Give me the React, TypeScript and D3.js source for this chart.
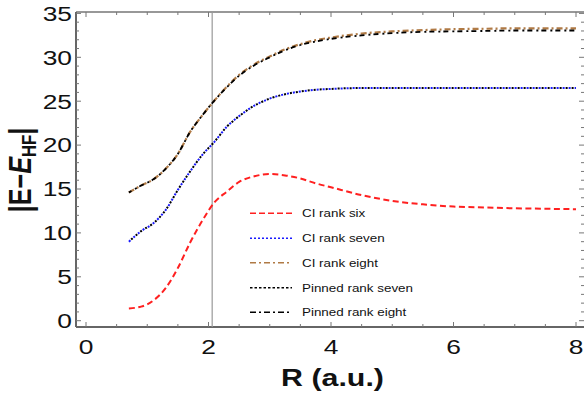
import React from "react";
import * as d3 from "d3";

// Internuclear distance grid (a.u.)
const rGrid = [0.7, 0.9, 1.1, 1.3, 1.5, 1.7, 1.9, 2.1, 2.3, 2.5, 2.75, 3.0, 3.25, 3.5, 3.75, 4.0, 4.5, 5.0, 5.5, 6.0, 6.5, 7.0, 7.5, 8.0];

// |E - E_HF| for each method
const ciRankSix = [1.4, 1.6, 2.3, 3.7, 6.0, 8.9, 11.4, 13.5, 14.7, 15.8, 16.45, 16.7, 16.55, 16.2, 15.65, 15.2, 14.3, 13.65, 13.25, 13.0, 12.9, 12.8, 12.75, 12.7];
const ciRankSeven = [9.0, 10.2, 11.1, 12.6, 14.9, 17.0, 18.9, 20.4, 22.1, 23.3, 24.5, 25.3, 25.8, 26.1, 26.3, 26.4, 26.5, 26.5, 26.5, 26.5, 26.5, 26.5, 26.5, 26.5];
const ciRankEight = [14.6, 15.4, 16.1, 17.3, 19.0, 21.5, 23.4, 25.1, 26.65, 28.0, 29.2, 30.1, 30.9, 31.5, 31.95, 32.25, 32.7, 32.95, 33.1, 33.2, 33.25, 33.3, 33.3, 33.3];
const pinnedRankSeven = [9.0, 10.2, 11.1, 12.6, 14.9, 17.0, 18.9, 20.4, 22.1, 23.3, 24.5, 25.3, 25.8, 26.1, 26.3, 26.4, 26.5, 26.5, 26.5, 26.5, 26.5, 26.5, 26.5, 26.5];
const pinnedRankEight = [14.6, 15.4, 16.1, 17.3, 19.0, 21.5, 23.4, 25.1, 26.6, 27.9, 29.1, 30.0, 30.8, 31.4, 31.8, 32.1, 32.5, 32.75, 32.9, 32.95, 33.0, 33.05, 33.05, 33.05];

const xTicks = [0, 2, 4, 6, 8];
const yTicks = [0, 5, 10, 15, 20, 25, 30, 35];
const markerR = 2.06;

const legendLabels = ["CI rank six", "CI rank seven", "CI rank eight", "Pinned rank seven", "Pinned rank eight"];

const FONT = "'Liberation Sans', Arial, sans-serif";
const SX = 1.32; // horizontal text stretch

export default function App() {
  const left = 76, right = 583, top = 12, bottom = 327;
  const x = d3.scaleLinear().domain([0, 8]).range([86, 576]);
  const y = d3.scaleLinear().domain([0, 35]).range([320.7, 13.4]);

  const line = (vals: number[]) =>
    d3
      .line<number>()
      .x((_, i) => x(rGrid[i]))
      .y((v) => y(v))
      .curve(d3.curveMonotoneX)(vals) || "";

  const series = [
    { vals: ciRankSix, color: "#ff2020", dash: "6,3.5", offset: 0, w: 2 },
    { vals: ciRankSeven, color: "#1a1aff", dash: "2,4", offset: 0, w: 2 },
    { vals: ciRankEight, color: "#b07a45", dash: "6,3,2,3", offset: 0, w: 2.2 },
    { vals: pinnedRankSeven, color: "#000000", dash: "2,4", offset: 3, w: 2 },
    { vals: pinnedRankEight, color: "#000000", dash: "5,4,2,3", offset: 2, w: 1.8 },
  ];
  const legendStyles = [
    { color: "#ff2020", dash: "6,3" },
    { color: "#1a1aff", dash: "2,2" },
    { color: "#b07a45", dash: "6,3,2,3" },
    { color: "#000000", dash: "2.5,2" },
    { color: "#000000", dash: "6,3,2,3" },
  ];
  const legendY = [213.3, 238.3, 262.7, 287.7, 312.3];

  const xMinorAll = d3.range(0, 8.13, 0.5);
  const yMinor = d3.range(0, 35.01, 1);

  return (
    <svg
      width={584}
      height={405}
      style={{ position: "absolute", left: 0, top: 0, display: "block", background: "#fff" }}
    >
      <rect x={0} y={0} width={584} height={405} fill="#fff" />
      {/* frame */}
      <g fill="none">
        <line x1={left} y1={top} x2={right + 1} y2={top} stroke="#333" strokeWidth={1.2} />
        <line x1={left} y1={bottom} x2={right + 1} y2={bottom} stroke="#666" strokeWidth={2} />
        <line x1={left} y1={top} x2={left} y2={bottom} stroke="#666" strokeWidth={2} />
      </g>
      {/* ticks on all four sides, pointing inward */}
      <g stroke="#777" strokeWidth={1}>
        {xMinorAll.map((v) => {
          const major = Math.abs(v % 2) < 1e-6;
          const len = major ? 5 : 3;
          return (
            <g key={"xt" + v}>
              <line x1={x(v)} x2={x(v)} y1={bottom} y2={bottom - len} />
              <line x1={x(v)} x2={x(v)} y1={top} y2={top + len} />
            </g>
          );
        })}
        {yMinor.map((v) => {
          const major = v % 5 === 0;
          const len = major ? 5 : 3;
          return (
            <g key={"yt" + v}>
              <line x1={left} x2={left + len} y1={y(v)} y2={y(v)} />
              <line x1={right + 1} x2={right + 1 - len} y1={y(v)} y2={y(v)} />
            </g>
          );
        })}
      </g>
      {/* vertical marker */}
      <line x1={x(markerR)} x2={x(markerR)} y1={top} y2={bottom} stroke="#999" strokeWidth={1.2} />
      {/* curves */}
      <g fill="none">
        {series.map((s, i) => (
          <path
            key={i}
            d={line(s.vals)}
            stroke={s.color}
            strokeWidth={s.w}
            strokeDasharray={s.dash}
            strokeDashoffset={s.offset}
          />
        ))}
      </g>
      {/* tick labels */}
      <g fontFamily={FONT} fontSize={20} fill="#111">
        {yTicks.map((v) => (
          <text key={"yl" + v} transform={`translate(72,${y(v) + 7.3}) scale(${SX},1)`} textAnchor="end">
            {v}
          </text>
        ))}
        {xTicks.map((v) => (
          <text key={"xl" + v} transform={`translate(${x(v)},354) scale(${SX},1)`} textAnchor="middle">
            {v}
          </text>
        ))}
      </g>
      {/* axis titles */}
      <text
        transform={`translate(332.5,385.5) scale(${SX},1)`}
        textAnchor="middle"
        fontFamily={FONT}
        fontWeight="bold"
        fontSize={23}
        fill="#111"
      >
        R (a.u.)
      </text>
      <text
        transform={`translate(31,170) rotate(-90) scale(1.05,${SX})`}
        textAnchor="middle"
        fontFamily={FONT}
        fontWeight="bold"
        fontSize={24}
        fill="#111"
      >
        <tspan>|E−</tspan>
        <tspan fontStyle="italic">E</tspan>
        <tspan fontSize={16} dy={4}>HF</tspan>
        <tspan dy={-4}>|</tspan>
      </text>
      {/* legend */}
      <g fontFamily={FONT} fontSize={11} fill="#111">
        {legendLabels.map((lab, i) => (
          <g key={lab}>
            <line
              x1={250}
              x2={292}
              y1={legendY[i]}
              y2={legendY[i]}
              stroke={legendStyles[i].color}
              strokeWidth={1.6}
              strokeDasharray={legendStyles[i].dash}
            />
            <text transform={`translate(302,${legendY[i] + 4}) scale(1.22,1)`}>{lab}</text>
          </g>
        ))}
      </g>
    </svg>
  );
}
